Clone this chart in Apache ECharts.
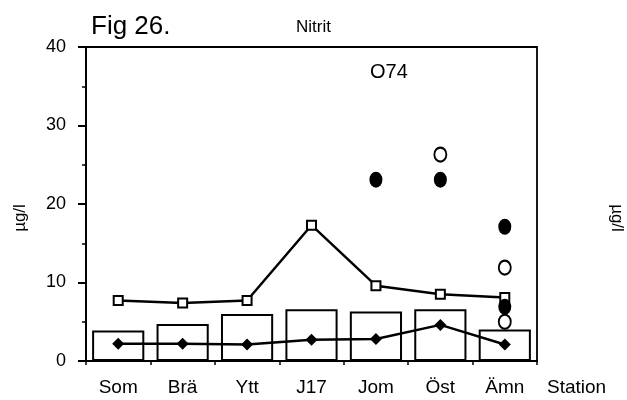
<!DOCTYPE html>
<html>
<head>
<meta charset="utf-8">
<script src="https://cdn.jsdelivr.net/npm/echarts@6/dist/echarts.min.js"></script>
<style>
html,body{margin:0;padding:0;background:#fff;}
#c{width:627px;height:400px;}
</style>
</head>
<body>
<div id="c"></div>
<script>
const FONT = "'Liberation Sans', Arial, Helvetica, sans-serif";
const categories = ['Som', 'Brä', 'Ytt', 'J17', 'Jom', 'Öst', 'Ämn'];
const barValues = [3.9, 4.7, 6.0, 6.6, 6.3, 6.6, 4.0];
const squareLine = [7.7, 7.4, 7.7, 17.3, 9.6, 8.5, 8.1];
const diamondLine = [2.2, 2.2, 2.1, 2.7, 2.8, 4.6, 2.1];
const filledCircles = [['Jom', 23.1], ['Öst', 23.1], ['Ämn', 17.1], ['Ämn', 6.9]];
const openCircles = [['Öst', 26.3], ['Ämn', 11.9], ['Ämn', 5.0]];
const offScaleNote = [['Jom', 36.8, 'O74']];
const yTicks = { min: 0, max: 40, interval: 10 };

const chart = echarts.init(document.getElementById('c'));
chart.setOption({
  animation: false,
  backgroundColor: '#fff',
  textStyle: { fontFamily: FONT, color: '#000' },
  title: [
    { text: 'Fig 26.', left: 86, top: 9, textStyle: { fontFamily: FONT, fontSize: 26, fontWeight: 'normal', color: '#000' } },
    { text: 'Nitrit', left: 291, top: 14, textStyle: { fontFamily: FONT, fontSize: 17, fontWeight: 'normal', color: '#000' } }
  ],
  grid: { left: 86, right: 90, top: 47, bottom: 39, show: true, borderColor: '#000', borderWidth: 1.8, backgroundColor: 'transparent' },
  xAxis: {
    type: 'category',
    data: categories,
    boundaryGap: true,
    name: 'Station',
    nameLocation: 'end',
    nameGap: 10,
    nameTextStyle: { fontFamily: FONT, fontSize: 19, color: '#000', verticalAlign: 'top', padding: [17, 0, 0, 0] },
    axisLine: { lineStyle: { color: '#000', width: 2 } },
    axisTick: { show: true, length: 4, lineStyle: { color: '#000', width: 1.5 } },
    axisLabel: { fontFamily: FONT, fontSize: 19, color: '#000', margin: 17 },
    splitLine: { show: false }
  },
  yAxis: {
    type: 'value',
    min: yTicks.min, max: yTicks.max, interval: yTicks.interval,
    axisLine: { show: true, lineStyle: { color: '#000', width: 2 } },
    axisTick: { show: true, length: 8, lineStyle: { color: '#000', width: 2 } },
    minorTick: { show: true, splitNumber: 2, length: 4, lineStyle: { color: '#000', width: 1.5 } },
    axisLabel: { fontFamily: FONT, fontSize: 18, color: '#000', margin: 20 },
    splitLine: { show: false }
  },
  graphic: [
    { type: 'text', x: 20, y: 218, rotation: Math.PI / 2, style: { text: 'µg/l', x: 0, y: 0, align: 'center', verticalAlign: 'middle', font: '17px ' + FONT, fill: '#000' } },
    { type: 'text', x: 617, y: 218, rotation: -Math.PI / 2, style: { text: 'µg/l', x: 0, y: 0, align: 'center', verticalAlign: 'middle', font: '17px ' + FONT, fill: '#000' } }
  ],
  series: [
    {
      type: 'bar', data: barValues, barCategoryGap: '19%',
      itemStyle: { color: '#fff', borderColor: '#000', borderWidth: 2 },
      z: 1
    },
    {
      type: 'line', data: squareLine, symbol: 'rect', symbolSize: 9, showAllSymbol: true,
      lineStyle: { color: '#000', width: 2.5 },
      itemStyle: { color: '#fff', borderColor: '#000', borderWidth: 2 },
      z: 3
    },
    {
      type: 'line', data: diamondLine, symbol: 'diamond', symbolSize: 12, showAllSymbol: true,
      lineStyle: { color: '#000', width: 2.5 },
      itemStyle: { color: '#000' },
      z: 3
    },
    {
      type: 'scatter', data: filledCircles, symbol: 'circle', symbolSize: [13, 16],
      itemStyle: { color: '#000', opacity: 1 },
      z: 4
    },
    {
      type: 'scatter', data: openCircles, symbol: 'circle', symbolSize: [12, 14],
      itemStyle: { color: '#fff', borderColor: '#000', borderWidth: 2, opacity: 1 },
      z: 5
    },
    {
      type: 'scatter', data: offScaleNote, symbol: 'circle', symbolSize: 2,
      itemStyle: { color: 'transparent', opacity: 1 },
      label: { show: true, position: 'inside', offset: [13, 0], formatter: p => p.data[2], fontFamily: FONT, fontSize: 20, color: '#000' },
      z: 5
    }
  ]
});
</script>
</body>
</html>
